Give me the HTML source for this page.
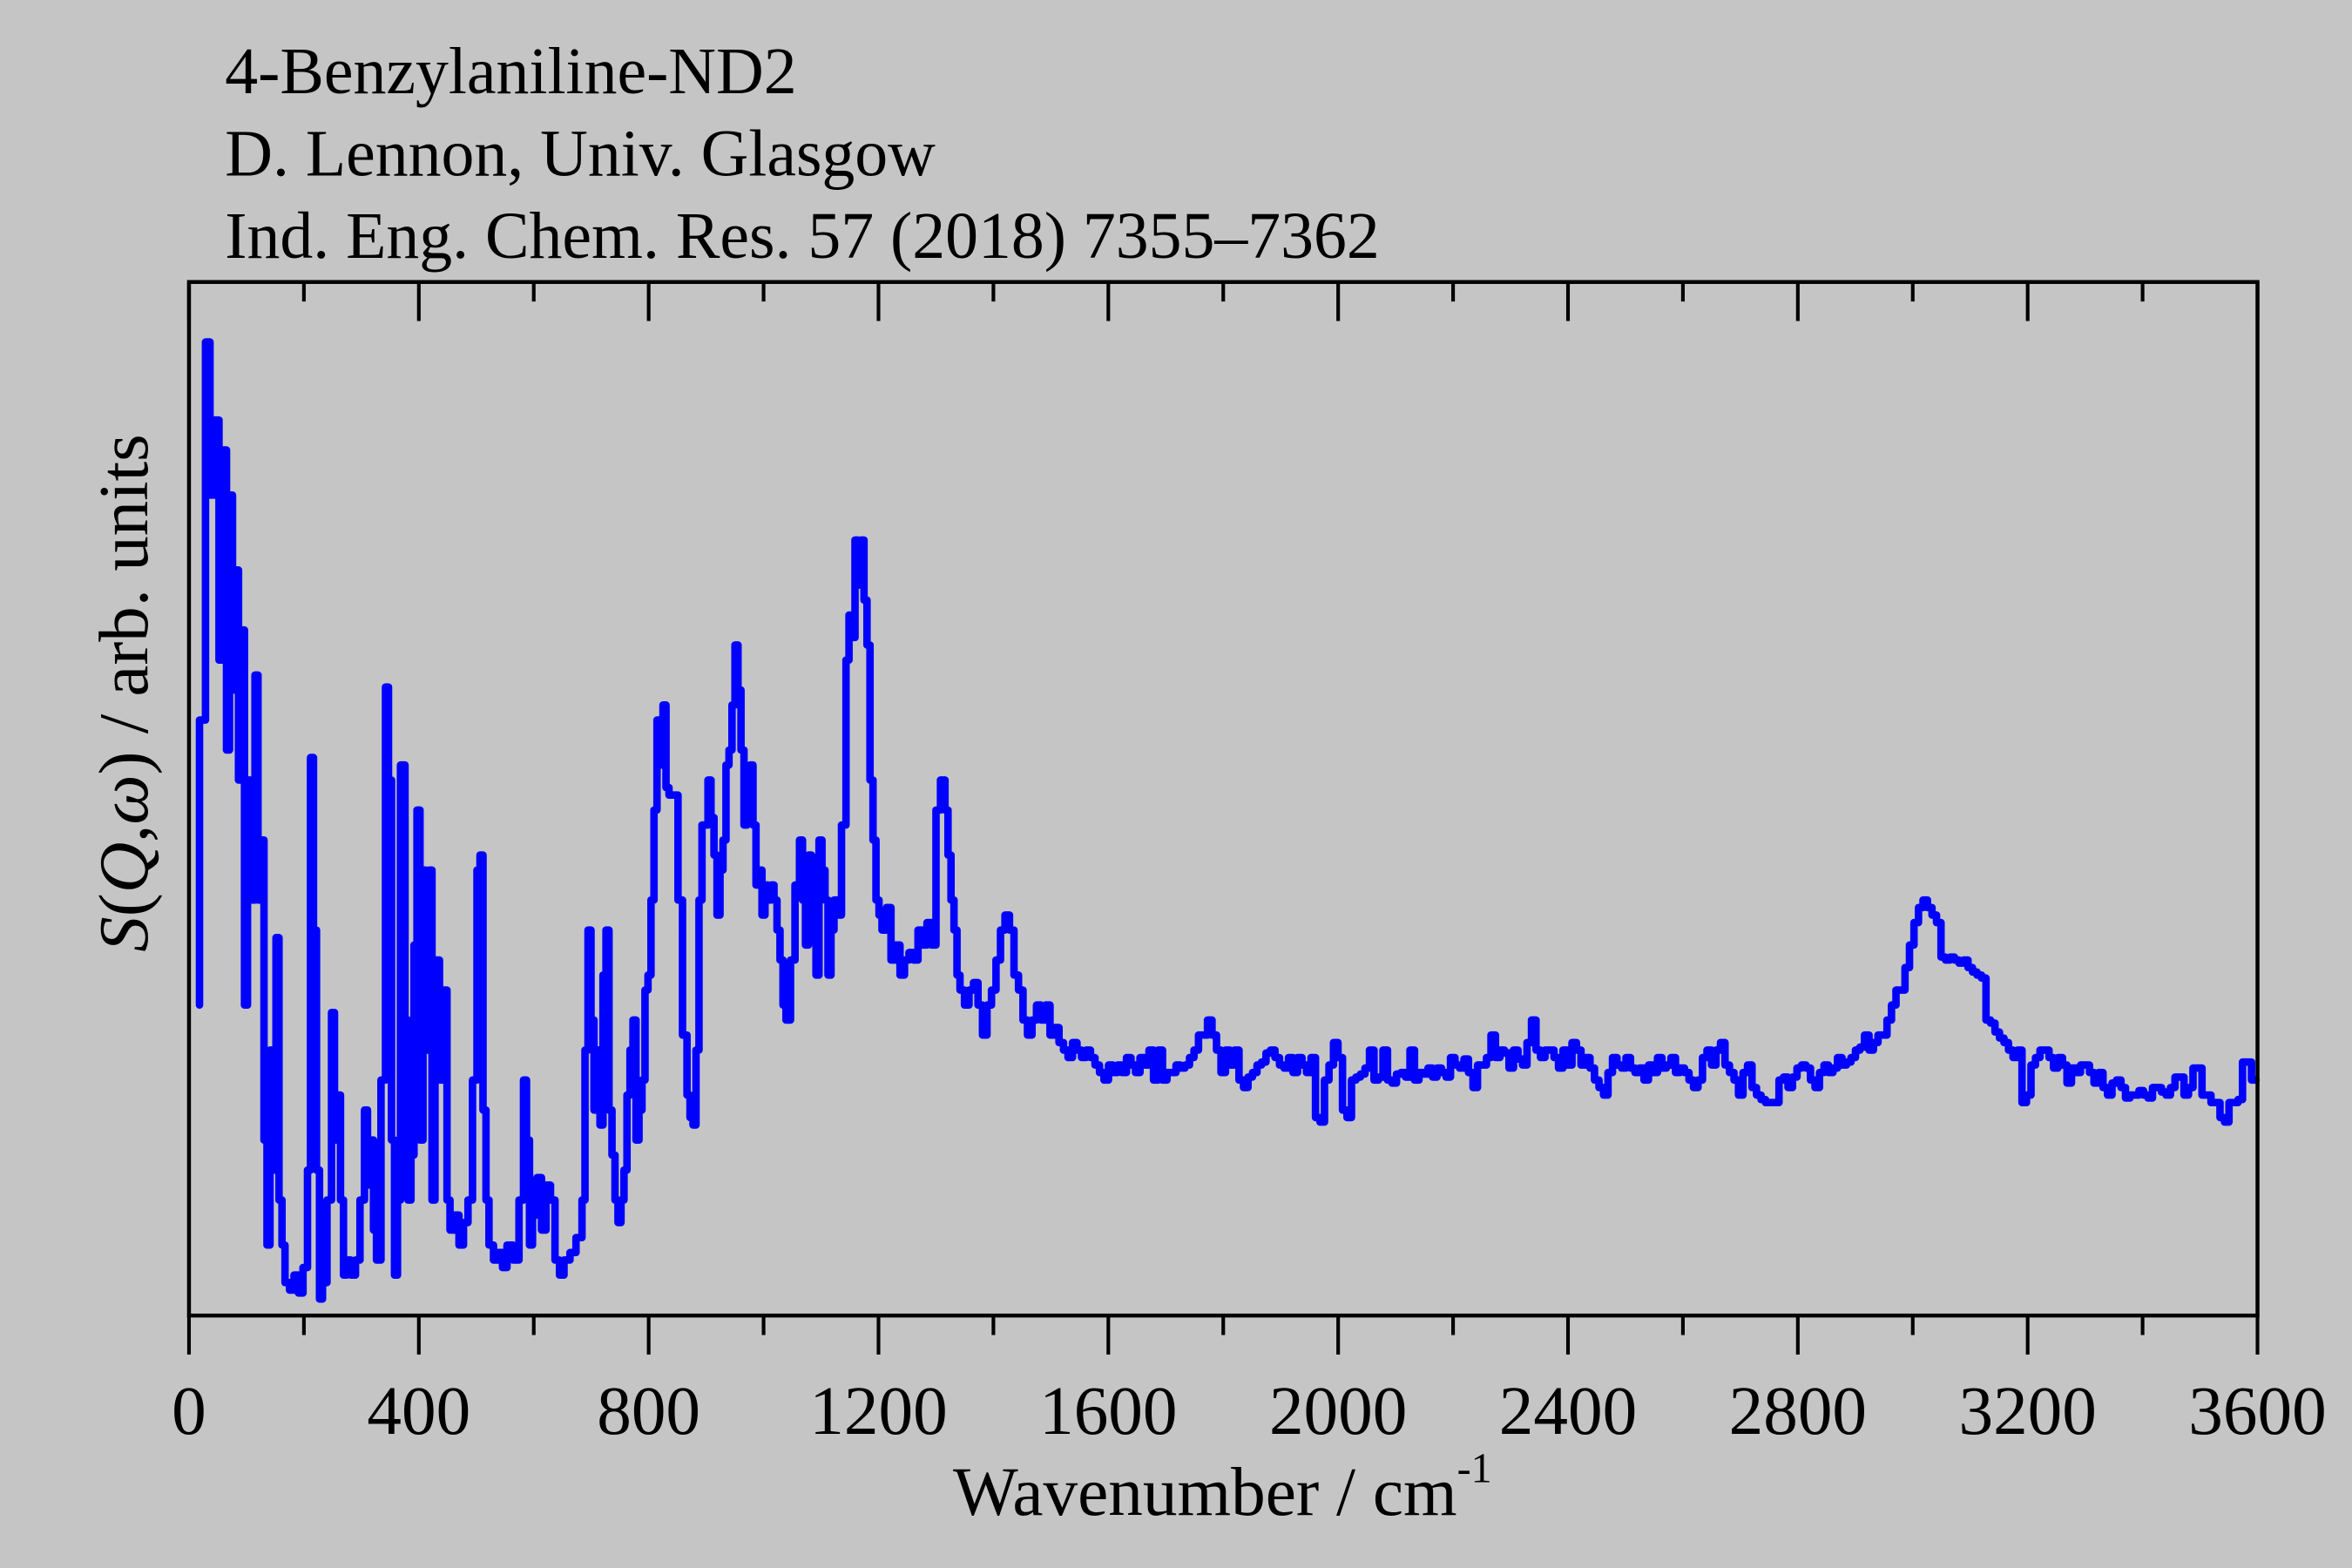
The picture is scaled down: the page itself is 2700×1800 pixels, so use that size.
<!DOCTYPE html>
<html><head><meta charset="utf-8"><style>
html,body{margin:0;padding:0;background:#c5c5c5;}
svg{display:block}
text{font-family:"Liberation Serif",serif;fill:#000}
</style></head><body>
<svg id="s" width="2700" height="1800" viewBox="0 0 1568 1045.3" preserveAspectRatio="none" xmlns="http://www.w3.org/2000/svg">
<rect x="0" y="0" width="1568" height="1046" fill="#c5c5c5"/>
<text x="150" y="62" font-size="44">4-Benzylaniline-ND2</text>
<text x="150" y="117" font-size="44">D. Lennon, Univ. Glasgow</text>
<text x="150" y="172" font-size="44">Ind. Eng. Chem. Res. 57 (2018) 7355–7362</text>
<g id="ticks" stroke="#000" stroke-width="2.4"></g>
<path id="curve" fill="none" stroke="#0000ff" stroke-width="5" stroke-linejoin="round" stroke-linecap="round"/>
<rect x="126" y="188" width="1379" height="689" fill="none" stroke="#000" stroke-width="2.6"/>
<g id="labels" font-size="46" text-anchor="middle"></g>
<text x="815" y="1010" font-size="46" text-anchor="middle">Wavenumber / cm<tspan font-size="28" dy="-22">-1</tspan></text>
<text transform="translate(98,462) rotate(-90)" font-size="47" text-anchor="middle"><tspan font-style="italic">S</tspan>(<tspan font-style="italic">Q</tspan>,<tspan font-style="italic">ω</tspan>) / arb. units</text>
</svg>
<script>
var L=126,R=1505,T=188,B=877;
var tg=document.getElementById('ticks'),lg=document.getElementById('labels'),ns='http://www.w3.org/2000/svg';
for(var v=0;v<=3600;v+=200){var x=L+(R-L)*v/3600;var maj=v%400==0;var len=maj?26:13;
var l=document.createElementNS(ns,'line');l.setAttribute('x1',x);l.setAttribute('x2',x);l.setAttribute('y1',B);l.setAttribute('y2',B+len);tg.appendChild(l);
var l2=document.createElementNS(ns,'line');l2.setAttribute('x1',x);l2.setAttribute('x2',x);l2.setAttribute('y1',T);l2.setAttribute('y2',T+len);tg.appendChild(l2);
if(maj){var t=document.createElementNS(ns,'text');t.setAttribute('x',x);t.setAttribute('y',956);t.textContent=v;lg.appendChild(t);}}
var p=[133,670,137,480,140,228,143,330,146,280,149,440,151,300,153,500,155,330,157,460,159,380,161,520,163,420,165,670,167,520,170,600,172,450,174,600,176,560,178,760,180,830,182,700,184,780,186,625,188,800,190,830,193,855,196,860,199,850,202,862,205,845,207,780,209,505,211,620,213,780,215,866,218,855,221,800,223,675,225,760,227,730,229,800,231,850,234,840,237,850,240,840,243,800,245,740,247,790,249,760,251,820,254,840,257,720,259,458,261,520,263,760,265,850,267,800,270,510,272,680,274,800,276,770,278,630,280,540,282,760,284,580,286,700,288,580,290,800,293,640,296,720,298,660,300,800,303,820,306,810,309,830,312,815,315,800,318,720,320,580,322,570,324,740,326,800,329,830,332,840,335,835,338,845,342,830,346,840,349,800,351,720,353,760,355,830,358,810,361,785,364,820,367,790,370,800,373,840,376,850,380,840,384,835,388,825,390,800,392,700,394,620,396,680,398,740,400,700,402,750,404,650,406,620,408,740,410,770,412,800,414,815,416,800,418,780,420,730,422,700,424,680,426,760,428,740,430,720,432,660,434,650,436,600,438,540,440,480,442,510,444,470,446,525,449,530,452,530,455,600,458,690,460,730,462,745,464,750,466,700,468,600,470,550,472,550,474,520,476,545,478,570,480,610,482,580,484,560,486,510,488,500,490,470,492,430,494,460,496,500,498,550,500,530,502,510,504,550,506,590,508,580,510,610,512,590,514,600,516,590,518,600,520,620,522,640,524,670,527,680,530,640,533,590,535,560,537,600,539,630,541,570,544,620,546,650,548,560,550,580,552,600,554,650,556,620,558,600,561,610,564,550,566,440,568,410,570,425,572,360,574,390,576,360,578,400,580,430,582,520,584,560,586,600,588,610,591,620,594,605,597,640,600,630,603,650,606,640,609,635,612,640,615,620,618,630,621,615,624,630,627,540,630,520,632,540,634,570,636,600,638,620,640,650,643,660,646,670,649,660,652,655,655,670,658,690,661,670,664,660,667,640,670,620,673,610,676,620,679,650,682,660,685,680,688,690,691,680,694,670,697,680,700,670,703,690,706,685,709,695,712,700,715,705,718,695,721,700,724,705,727,700,730,705,733,710,736,715,739,720,742,710,745,715,748,710,751,715,754,705,757,710,760,715,763,705,766,710,769,700,772,720,775,700,778,720,781,715,784,715,787,710,790,712,793,710,796,705,799,700,802,690,805,690,808,680,811,690,814,700,817,715,820,700,823,710,826,700,829,720,832,725,835,718,838,715,841,710,844,708,847,702,850,700,853,705,856,710,859,712,862,705,865,715,868,705,871,710,874,715,877,705,880,745,883,748,886,720,889,710,892,695,895,705,898,740,901,745,904,720,907,718,910,716,913,712,916,700,919,720,922,718,925,700,928,720,931,722,934,716,937,715,940,718,943,700,946,720,949,715,952,716,955,712,958,718,961,712,964,715,967,718,970,705,973,710,976,712,979,706,982,715,985,725,988,710,991,710,994,705,997,690,1000,705,1003,700,1006,702,1009,712,1012,700,1015,706,1018,710,1021,695,1024,680,1027,700,1030,705,1033,700,1036,700,1039,705,1042,712,1045,700,1048,710,1051,695,1054,700,1057,710,1060,705,1063,712,1066,720,1069,725,1072,730,1075,715,1078,705,1081,710,1084,712,1087,705,1090,712,1093,715,1096,712,1099,720,1102,710,1105,715,1108,705,1111,712,1114,710,1117,705,1120,715,1123,712,1126,715,1129,720,1132,725,1135,720,1138,705,1141,700,1144,710,1147,700,1150,695,1153,710,1156,715,1159,720,1162,730,1165,715,1168,710,1171,725,1174,730,1177,733,1180,735,1183,735,1186,735,1189,720,1192,718,1195,725,1198,718,1201,712,1204,710,1207,712,1210,720,1213,725,1216,715,1219,710,1222,715,1225,712,1228,705,1231,710,1234,708,1237,705,1240,700,1243,698,1246,690,1249,700,1252,695,1255,690,1258,690,1261,680,1264,670,1267,660,1270,660,1273,645,1276,630,1279,615,1282,605,1285,600,1288,605,1291,610,1294,615,1297,638,1300,640,1303,638,1306,640,1309,642,1312,640,1315,645,1318,648,1321,650,1324,652,1327,680,1330,682,1333,688,1336,692,1339,695,1342,700,1345,705,1348,700,1351,735,1354,730,1357,710,1360,705,1363,700,1366,700,1369,705,1372,712,1375,705,1378,710,1381,722,1384,712,1387,715,1390,710,1393,710,1396,715,1399,722,1402,715,1405,725,1408,730,1411,722,1414,720,1417,725,1420,732,1423,730,1426,730,1429,727,1432,730,1435,732,1438,725,1441,725,1444,728,1447,730,1450,725,1453,718,1456,718,1459,730,1462,725,1465,712,1468,712,1471,730,1474,730,1477,735,1480,735,1483,745,1486,748,1489,735,1492,735,1495,733,1498,708,1501,708,1504,720];
var d='M'+p[0]+' '+p[1];for(var i=2;i<p.length;i+=2){d+=' V'+p[i+1]+' H'+p[i];}
document.getElementById('curve').setAttribute('d',d);
</script>
</body></html>
